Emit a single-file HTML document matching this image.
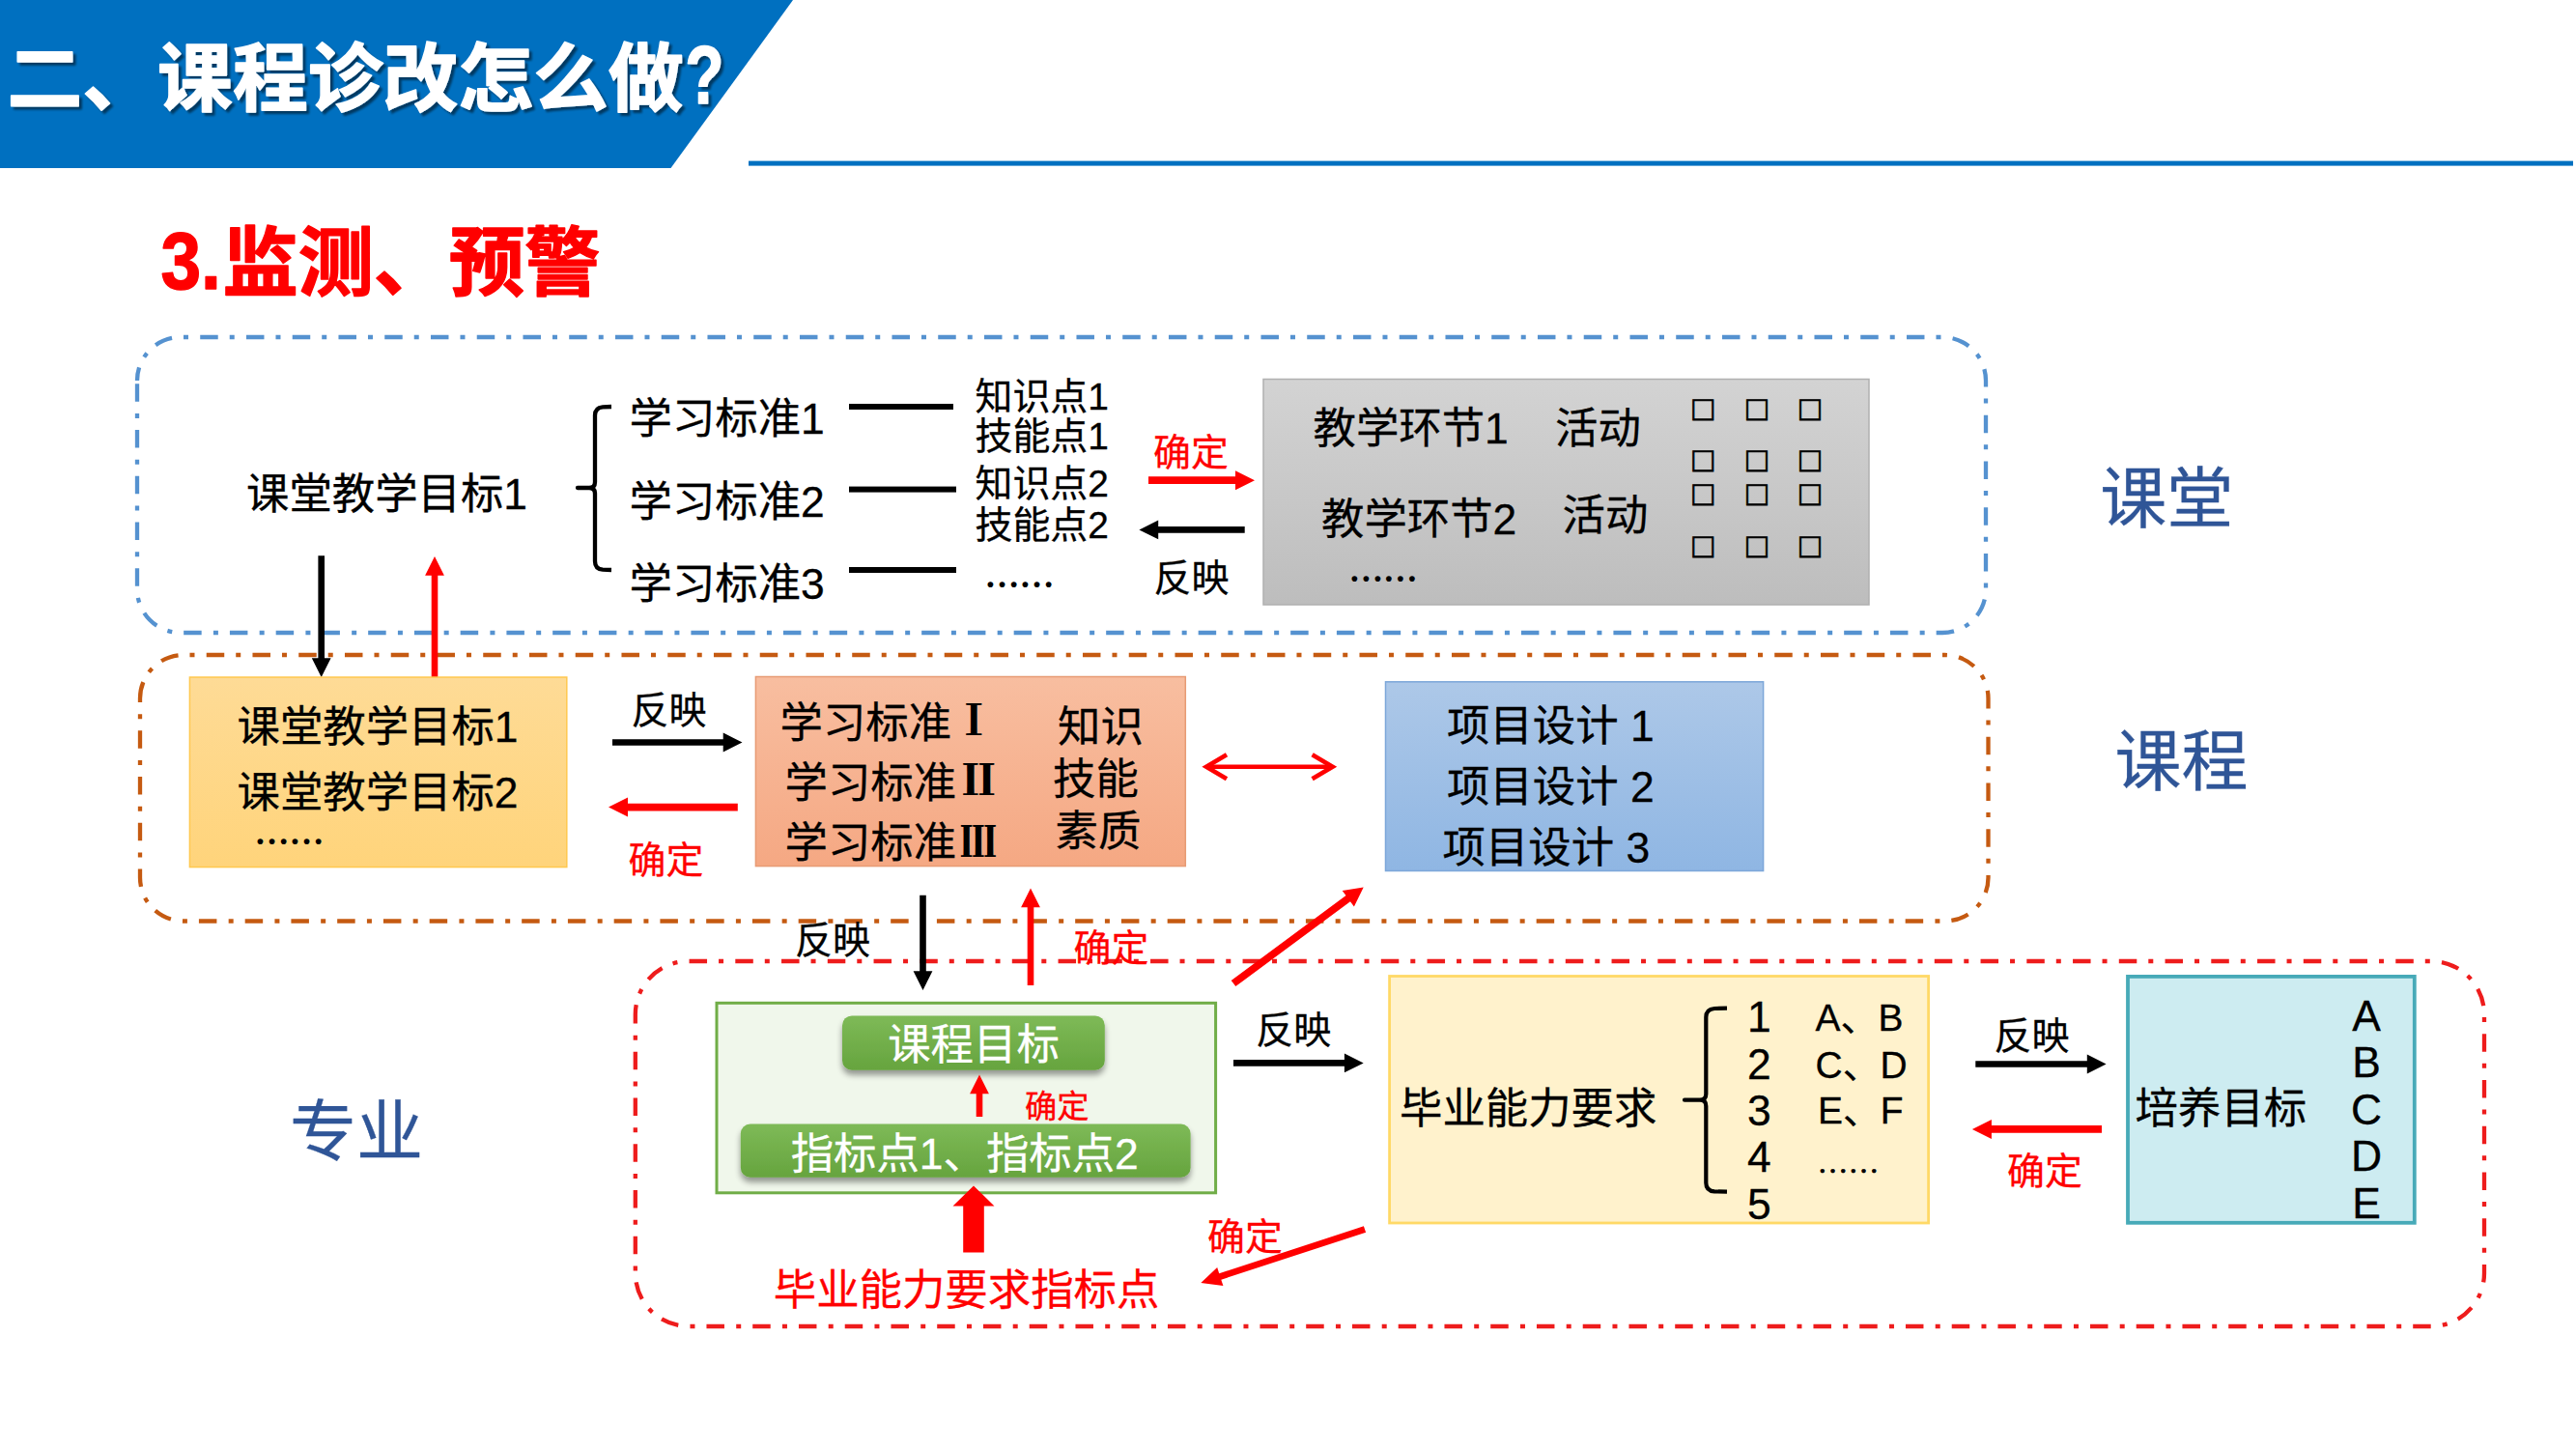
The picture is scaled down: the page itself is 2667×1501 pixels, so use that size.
<!DOCTYPE html>
<html lang="zh-CN"><head><meta charset="utf-8"><title>课程诊改怎么做</title>
<style>
html,body{margin:0;padding:0;background:#fff;}
body{width:2667px;height:1501px;overflow:hidden;font-family:"Liberation Sans", "Noto Sans CJK SC", sans-serif;}
svg{display:block;}
svg text{font-family:"Liberation Sans", "Noto Sans CJK SC", sans-serif;white-space:pre;}
</style></head><body>
<svg width="2667" height="1501" viewBox="0 0 2667 1501">
<defs>
<linearGradient id="gGray" x1="0" y1="0" x2="0" y2="1"><stop offset="0" stop-color="#d3d3d3"/><stop offset="1" stop-color="#bdbdbd"/></linearGradient>
<linearGradient id="gOrange" x1="0" y1="0" x2="0" y2="1"><stop offset="0" stop-color="#fedb96"/><stop offset="1" stop-color="#ffd47b"/></linearGradient>
<linearGradient id="gSalmon" x1="0" y1="0" x2="0" y2="1"><stop offset="0" stop-color="#f8bea0"/><stop offset="1" stop-color="#f5a883"/></linearGradient>
<linearGradient id="gBlue" x1="0" y1="0" x2="0" y2="1"><stop offset="0" stop-color="#adc8e8"/><stop offset="1" stop-color="#8fb6e3"/></linearGradient>
<linearGradient id="gGreen" x1="0" y1="0" x2="0" y2="1"><stop offset="0" stop-color="#7eba57"/><stop offset="1" stop-color="#66a43e"/></linearGradient>
<filter id="sh" x="-10%" y="-20%" width="120%" height="160%"><feGaussianBlur in="SourceAlpha" stdDeviation="3"/><feOffset dx="0" dy="5" result="o"/><feComponentTransfer><feFuncA type="linear" slope="0.4"/></feComponentTransfer><feMerge><feMergeNode/><feMergeNode in="SourceGraphic"/></feMerge></filter>
<filter id="tsh" x="-5%" y="-10%" width="110%" height="130%"><feGaussianBlur in="SourceAlpha" stdDeviation="1.3"/><feOffset dx="2.5" dy="2.5" result="o"/><feComponentTransfer><feFuncA type="linear" slope="0.5"/></feComponentTransfer><feMerge><feMergeNode/><feMergeNode in="SourceGraphic"/></feMerge></filter>
</defs>
<rect width="2667" height="1501" fill="#fff"/>

<polygon points="0,0 821,0 694.5,174 0,174" fill="#0070c0"/>
<rect x="775" y="166.6" width="1889" height="5" fill="#0070c0"/>
<g filter="url(#tsh)" fill="#fff" stroke="#fff" stroke-width="1.5" stroke-linejoin="round" font-weight="bold">
<text x="7.5" y="109" font-size="77.8" fill="#fff">二、课程诊改怎么做</text>
<text transform="translate(709.3,107) scale(0.78,1)" font-size="84.5">?</text>
</g>
<g fill="#ff0000" stroke="#ff0000" stroke-width="1.5" stroke-linejoin="round" font-weight="bold">
<text transform="translate(166.5,298.6) scale(0.89,1)" font-size="84">3.</text>
<text x="230.5" y="300" font-size="78.2" fill="#ff0000">监测、预警</text>
</g>
<path d="M142,394 A45,45 0 0 1 187,349 L2011,349 A45,45 0 0 1 2056,394 L2056,610 A45,45 0 0 1 2011,655 L187,655 A45,45 0 0 1 142,610 Z" fill="none" stroke="#5592d0" stroke-width="4.3" stroke-dasharray="18.5 12 5 12.25" stroke-dashoffset="4.7"/>
<path d="M145,723 A45,45 0 0 1 190,678 L2013.5,678 A45,45 0 0 1 2058.5,723 L2058.5,908.5 A45,45 0 0 1 2013.5,953.5 L190,953.5 A45,45 0 0 1 145,908.5 Z" fill="none" stroke="#c55a11" stroke-width="4.3" stroke-dasharray="18.5 12 5 12.25" stroke-dashoffset="1.2"/>
<path d="M657.8,1050 A55,55 0 0 1 712.8,995 L2517,995 A55,55 0 0 1 2572,1050 L2572,1318 A55,55 0 0 1 2517,1373 L712.8,1373 A55,55 0 0 1 657.8,1318 Z" fill="none" stroke="#ee1c1c" stroke-width="4.3" stroke-dasharray="18.5 12 5 12.25" stroke-dashoffset="8.5"/>
<text x="255" y="526.5" font-size="44.4" fill="#000" stroke="#000" stroke-width="0.3">课堂教学目标1</text>
<path d="M633,421 L624,421.3 Q616,422 616,430 L616,499 Q616,505 610,505 L598,505 L610,505 Q616,505 616,511 L616,581 Q616,589 624,589.7 L633,590" fill="none" stroke="#000" stroke-width="4.3" stroke-linejoin="round"/>
<text x="651.5" y="449" font-size="44.4" fill="#000" stroke="#000" stroke-width="0.3">学习标准1</text>
<text x="651.5" y="534.5" font-size="44.4" fill="#000" stroke="#000" stroke-width="0.3">学习标准2</text>
<text x="651.5" y="619.5" font-size="44.4" fill="#000" stroke="#000" stroke-width="0.3">学习标准3</text>
<rect x="879" y="418" width="108" height="6" fill="#000"/>
<rect x="879" y="503.6" width="111" height="6" fill="#000"/>
<rect x="879" y="587" width="111" height="6" fill="#000"/>
<text x="1009.5" y="424" font-size="38.9" fill="#000" stroke="#000" stroke-width="0.3">知识点1</text>
<text x="1009.5" y="465" font-size="38.9" fill="#000" stroke="#000" stroke-width="0.3">技能点1</text>
<text x="1009.5" y="514" font-size="38.9" fill="#000" stroke="#000" stroke-width="0.3">知识点2</text>
<text x="1009.5" y="557" font-size="38.9" fill="#000" stroke="#000" stroke-width="0.3">技能点2</text>
<text x="1019.4" y="608.1" font-size="36" font-weight="bold" style="font-family:'Liberation Serif','Noto Serif CJK SC',serif">……</text>
<text x="1194" y="482" font-size="38.9" fill="#ff0000" stroke="#ff0000" stroke-width="0.3">确定</text>
<polygon fill="#ff0000" points="1189.0,501.1 1279.0,501.1 1279.0,507.2 1299.0,497.2 1279.0,487.2 1279.0,493.3 1189.0,493.3"/>
<polygon fill="#000" points="1288.7,545.1 1199.2,545.1 1199.2,538.5 1179.4,548.4 1199.2,558.3 1199.2,551.7 1288.7,551.7"/>
<text x="1194.5" y="611.5" font-size="38.9" fill="#000" stroke="#000" stroke-width="0.3">反映</text>
<rect x="1308" y="392.5" width="627" height="233.5" fill="url(#gGray)" stroke="#b0b0b0" stroke-width="1.5"/>
<text x="1359.5" y="459" font-size="44.4" fill="#000" stroke="#000" stroke-width="0.3">教学环节1</text>
<text x="1610" y="459" font-size="44.4" fill="#000" stroke="#000" stroke-width="0.3">活动</text>
<text x="1368" y="553" font-size="44.4" fill="#000" stroke="#000" stroke-width="0.3">教学环节2</text>
<text x="1617.5" y="548.5" font-size="44.4" fill="#000" stroke="#000" stroke-width="0.3">活动</text>
<text x="1396.4" y="601.9" font-size="35.7" font-weight="bold" style="font-family:'Liberation Serif','Noto Serif CJK SC',serif">……</text>
<text x="1752.6 1808.2 1863.3" y="435.0" font-size="35.8" fill="#000" stroke="#000" stroke-width="0.8">□□□</text>
<text x="1752.6 1808.2 1863.3" y="488.4" font-size="35.8" fill="#000" stroke="#000" stroke-width="0.8">□□□</text>
<text x="1752.6 1808.2 1863.3" y="523.4" font-size="35.8" fill="#000" stroke="#000" stroke-width="0.8">□□□</text>
<text x="1752.6 1808.2 1863.3" y="576.8" font-size="35.8" fill="#000" stroke="#000" stroke-width="0.8">□□□</text>
<text x="2174.2" y="540.8" font-size="69" fill="#2f5597" stroke="#2f5597" stroke-width="0.3">课堂</text>
<polygon fill="#000" points="329.4,575.3 329.4,681.2 322.8,681.2 332.7,701.0 342.6,681.2 336.0,681.2 336.0,575.3"/>
<polygon fill="#ff0000" points="453.3,701.0 453.3,595.8 459.9,595.8 450.0,576.0 440.1,595.8 446.7,595.8 446.7,701.0"/>
<rect x="196.4" y="701" width="390.4" height="196.6" fill="url(#gOrange)" stroke="#ffc84f" stroke-width="1.5"/>
<text x="245.5" y="768" font-size="44.4" fill="#000" stroke="#000" stroke-width="0.3">课堂教学目标1</text>
<text x="245.5" y="835.5" font-size="44.4" fill="#000" stroke="#000" stroke-width="0.3">课堂教学目标2</text>
<text x="263.4" y="874.1" font-size="36" font-weight="bold" style="font-family:'Liberation Serif','Noto Serif CJK SC',serif">……</text>
<text x="653.5" y="749" font-size="38.9" fill="#000" stroke="#000" stroke-width="0.3">反映</text>
<polygon fill="#000" points="634.0,771.8 748.7,771.8 748.7,778.4 768.5,768.5 748.7,758.6 748.7,765.2 634.0,765.2"/>
<polygon fill="#ff0000" points="763.8,831.7 650.0,831.7 650.0,825.6 630.0,835.6 650.0,845.6 650.0,839.5 763.8,839.5"/>
<text x="650.5" y="903.5" font-size="38.9" fill="#ff0000" stroke="#ff0000" stroke-width="0.3">确定</text>
<rect x="782.4" y="700.5" width="444.9" height="196.1" fill="url(#gSalmon)" stroke="#e79b74" stroke-width="1.5"/>
<text x="807.5" y="764" font-size="44.4" fill="#000" stroke="#000" stroke-width="0.3">学习标准</text>
<text x="812.5" y="825.5" font-size="44.4" fill="#000" stroke="#000" stroke-width="0.3">学习标准</text>
<text x="812.5" y="888" font-size="44.4" fill="#000" stroke="#000" stroke-width="0.3">学习标准</text>
<text transform="translate(988.2,760.8) scale(0.9,1)" font-size="44.4" font-weight="900" style="font-family:'Liberation Serif','Noto Serif CJK SC',serif">Ⅰ</text>
<text transform="translate(991,823.2) scale(1.0,1)" font-size="44.4" font-weight="900" style="font-family:'Liberation Serif','Noto Serif CJK SC',serif">Ⅱ</text>
<text transform="translate(994,886.5) scale(0.85,1)" font-size="44.4" font-weight="900" style="font-family:'Liberation Serif','Noto Serif CJK SC',serif">Ⅲ</text>
<text x="1095" y="768" font-size="44.4" fill="#000" stroke="#000" stroke-width="0.3">知识</text>
<text x="1090" y="822" font-size="44.4" fill="#000" stroke="#000" stroke-width="0.3">技能</text>
<text x="1092.5" y="875.5" font-size="44.4" fill="#000" stroke="#000" stroke-width="0.3">素质</text>
<g fill="none" stroke="#ff0000" stroke-width="4.6"><path d="M1250,793.8 L1378.5,793.8"/><path d="M1270,781.3 L1248.9,793.8 L1270,806.3"/><path d="M1358.6,781.3 L1379.7,793.8 L1358.6,806.3"/></g>
<rect x="1434.5" y="705.8" width="391.1" height="195.7" fill="url(#gBlue)" stroke="#7da7d9" stroke-width="1.5"/>
<text x="1498" y="767" font-size="44.4" fill="#000" stroke="#000" stroke-width="0.3">项目设计 1</text>
<text x="1498" y="830" font-size="44.4" fill="#000" stroke="#000" stroke-width="0.3">项目设计 2</text>
<text x="1493.5" y="892.8" font-size="44.4" fill="#000" stroke="#000" stroke-width="0.3">项目设计 3</text>
<text x="2189.6" y="813.3" font-size="69" fill="#2f5597" stroke="#2f5597" stroke-width="0.3">课程</text>
<polygon fill="#ff0000" points="1279.3,1021.1 1398.0,933.2 1401.9,938.4 1411.7,918.4 1389.7,921.9 1393.5,927.1 1274.7,1014.9"/>
<text x="823" y="987" font-size="38.9" fill="#000" stroke="#000" stroke-width="0.3">反映</text>
<polygon fill="#000" points="952.2,926.7 952.2,1005.2 945.6,1005.2 955.5,1025.0 965.4,1005.2 958.8,1005.2 958.8,926.7"/>
<polygon fill="#ff0000" points="1070.3,1020.0 1070.3,939.2 1076.9,939.2 1067.0,919.4 1057.1,939.2 1063.7,939.2 1063.7,1020.0"/>
<text x="1111.5" y="995.3" font-size="38.9" fill="#ff0000" stroke="#ff0000" stroke-width="0.3">确定</text>
<rect x="742" y="1038.3" width="516.6" height="196.5" fill="#f0f7eb" stroke="#70ad47" stroke-width="3"/>
<rect x="872" y="1051.4" width="271.8" height="56.3" rx="10" fill="url(#gGreen)" filter="url(#sh)"/>
<text x="1008" y="1097" font-size="44.4" fill="#fff" stroke="#fff" stroke-width="0.3" text-anchor="middle">课程目标</text>
<polygon fill="#ff0000" points="1017.3,1156.0 1017.3,1132.3 1023.9,1132.3 1014.0,1112.5 1004.1,1132.3 1010.7,1132.3 1010.7,1156.0"/>
<text x="1061" y="1156.5" font-size="33.3" fill="#ff0000" stroke="#ff0000" stroke-width="0.3">确定</text>
<rect x="766.8" y="1163.5" width="465.8" height="55.3" rx="10" fill="url(#gGreen)" filter="url(#sh)"/>
<text x="818.7" y="1210" font-size="44.4" fill="#fff" stroke="#fff" stroke-width="0.3">指标点1、指标点2</text>
<polygon fill="#ff0000" points="1018.8,1296.5 1018.8,1248.5 1029.5,1248.5 1008.0,1227.5 986.5,1248.5 997.2,1248.5 997.2,1296.5"/>
<text x="800.8" y="1351.3" font-size="44.4" fill="#ff0000" stroke="#ff0000" stroke-width="0.3">毕业能力要求指标点</text>
<text x="1250" y="1293.5" font-size="38.9" fill="#ff0000" stroke="#ff0000" stroke-width="0.3">确定</text>
<polygon fill="#ff0000" points="1411.9,1269.3 1262.2,1318.2 1260.2,1312.0 1243.3,1328.0 1266.4,1331.0 1264.3,1324.7 1414.1,1275.7"/>
<text x="1300.3" y="1080" font-size="38.9" fill="#000" stroke="#000" stroke-width="0.3">反映</text>
<polygon fill="#000" points="1277.0,1103.7 1391.9,1103.7 1391.9,1110.3 1411.7,1100.4 1391.9,1090.5 1391.9,1097.1 1277.0,1097.1"/>
<text x="299.9" y="1196.4" font-size="69" fill="#2f5597" stroke="#2f5597" stroke-width="0.3">专业</text>
<rect x="1438.6" y="1010.5" width="558" height="255.5" fill="#fff2cc" stroke="#ffd966" stroke-width="2.8"/>
<text x="1449" y="1163" font-size="44.4" fill="#000" stroke="#000" stroke-width="0.3">毕业能力要求</text>
<path d="M1788,1043.7 L1775,1044 Q1766.3,1044.7 1766.3,1053 L1766.3,1132.5 Q1766.3,1138.7 1760,1138.7 L1744,1138.7 L1760,1138.7 Q1766.3,1138.7 1766.3,1145 L1766.3,1224.5 Q1766.3,1232.8 1775,1233.4 L1788,1233.7" fill="none" stroke="#000" stroke-width="4.2" stroke-linejoin="round"/>
<text x="1809" y="1068" font-size="44.4" fill="#000" stroke="#000" stroke-width="0.3">1</text>
<text x="1809" y="1117.2" font-size="44.4" fill="#000" stroke="#000" stroke-width="0.3">2</text>
<text x="1809" y="1165" font-size="44.4" fill="#000" stroke="#000" stroke-width="0.3">3</text>
<text x="1809" y="1213" font-size="44.4" fill="#000" stroke="#000" stroke-width="0.3">4</text>
<text x="1809" y="1262.3" font-size="44.4" fill="#000" stroke="#000" stroke-width="0.3">5</text>
<text x="1879.6" y="1066.6" font-size="38.9" fill="#000" stroke="#000" stroke-width="0.3">A、B</text>
<text x="1879.6" y="1115.8" font-size="38.9" fill="#000" stroke="#000" stroke-width="0.3">C、D</text>
<text x="1882" y="1162.5" font-size="38.9" fill="#000" stroke="#000" stroke-width="0.3">E、F</text>
<text x="1881.4" y="1214.1" font-size="32" stroke="#000" stroke-width="0.7" style="font-family:'Liberation Serif','Noto Serif CJK SC',serif">……</text>
<text x="2064.5" y="1086" font-size="38.9" fill="#000" stroke="#000" stroke-width="0.3">反映</text>
<polygon fill="#000" points="2045.3,1104.8 2160.8,1104.8 2160.8,1111.4 2180.6,1101.5 2160.8,1091.6 2160.8,1098.2 2045.3,1098.2"/>
<polygon fill="#ff0000" points="2176.0,1165.0 2061.9,1165.0 2061.9,1158.9 2041.9,1168.9 2061.9,1178.9 2061.9,1172.8 2176.0,1172.8"/>
<text x="2078" y="1225.5" font-size="38.9" fill="#ff0000" stroke="#ff0000" stroke-width="0.3">确定</text>
<rect x="2203" y="1010.9" width="296.8" height="254.9" fill="#cdecf1" stroke="#47aab8" stroke-width="3.8"/>
<text x="2210.6" y="1162.5" font-size="44.4" fill="#000" stroke="#000" stroke-width="0.3">培养目标</text>
<text x="2450" y="1066.6" font-size="44.4" fill="#000" stroke="#000" stroke-width="0.3" text-anchor="middle">A</text>
<text x="2450" y="1114.8" font-size="44.4" fill="#000" stroke="#000" stroke-width="0.3" text-anchor="middle">B</text>
<text x="2450" y="1164" font-size="44.4" fill="#000" stroke="#000" stroke-width="0.3" text-anchor="middle">C</text>
<text x="2450" y="1211.7" font-size="44.4" fill="#000" stroke="#000" stroke-width="0.3" text-anchor="middle">D</text>
<text x="2450" y="1260.9" font-size="44.4" fill="#000" stroke="#000" stroke-width="0.3" text-anchor="middle">E</text>
</svg></body></html>
